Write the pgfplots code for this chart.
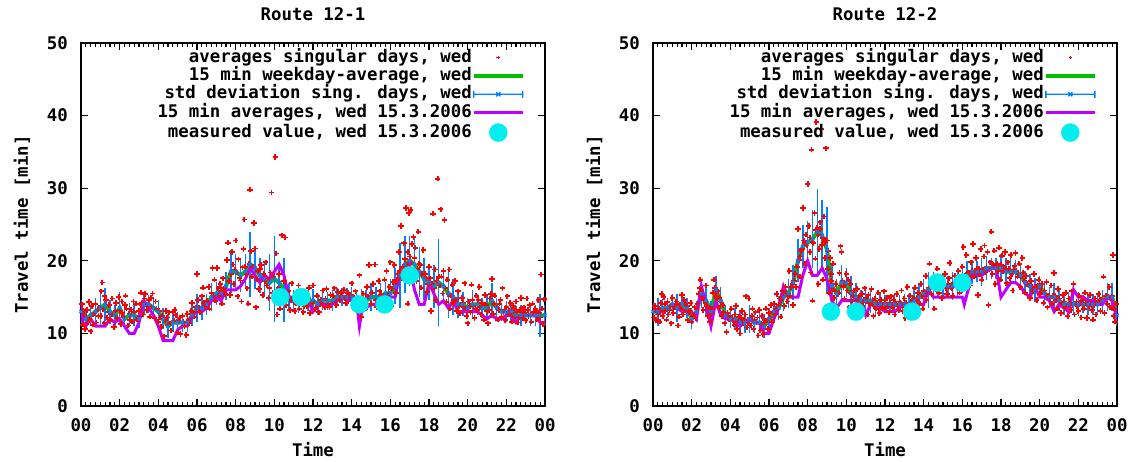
\documentclass[border=0pt]{standalone}
\usepackage{pgfplots}
\usepackage{pgfplotstable}
\pgfplotsset{compat=1.18}
\usepackage{fontspec}
\setmainfont{DejaVu Sans Mono}
\definecolor{gpred}{RGB}{255,0,0}
\definecolor{gpgreen}{RGB}{0,192,0}
\definecolor{gpblue}{RGB}{0,128,255}
\definecolor{gpmag}{RGB}{192,0,255}
\definecolor{gpcyan}{RGB}{0,238,238}

% weekday averages and std deviations, route 12-1
\pgfplotstableread{
t a s
0.00 13.0 1.2
0.25 12.0 1.0
0.50 12.5 1.0
0.75 13.0 1.5
1.00 13.5 2.0
1.25 14.0 1.8
1.50 13.0 1.2
1.75 12.5 1.0
2.00 13.5 1.8
2.25 12.0 1.0
2.50 12.5 1.2
2.75 12.5 1.0
3.00 12.0 0.8
3.25 14.0 1.0
3.50 14.0 0.8
3.75 13.5 1.0
4.00 13.0 1.2
4.25 12.0 1.0
4.50 11.0 1.2
4.75 11.5 0.8
5.00 11.5 1.0
5.25 11.5 0.8
5.50 11.5 0.8
5.75 12.5 1.0
6.00 13.5 1.5
6.25 13.5 1.2
6.50 14.0 1.0
6.75 15.0 1.5
7.00 15.5 1.2
7.25 15.5 1.0
7.50 16.5 1.5
7.75 18.5 2.5
8.00 18.5 2.0
8.25 18.0 1.8
8.50 18.5 2.0
8.75 19.5 4.0
9.00 19.0 2.5
9.25 18.0 2.0
9.50 17.5 2.0
9.75 17.0 3.5
10.00 17.5 5.5
10.25 17.0 2.0
10.50 16.0 4.0
10.75 15.0 1.5
11.00 14.5 1.0
11.25 14.5 1.2
11.50 14.5 1.0
11.75 14.5 1.0
12.00 14.5 1.2
12.25 14.0 1.0
12.50 14.5 0.8
12.75 14.5 0.8
13.00 14.5 1.0
13.25 15.0 0.8
13.50 15.0 0.8
13.75 15.0 0.8
14.00 15.0 1.0
14.25 14.5 1.0
14.50 14.5 1.2
14.75 14.5 1.0
15.00 15.0 1.5
15.25 15.0 1.0
15.50 15.0 1.5
15.75 15.5 1.2
16.00 15.5 1.5
16.25 16.5 2.0
16.50 18.0 4.0
16.75 19.5 3.5
17.00 20.0 3.0
17.25 19.5 3.5
17.50 18.5 3.0
17.75 17.5 2.5
18.00 17.0 2.0
18.25 16.5 2.5
18.50 17.0 5.5
18.75 16.5 2.0
19.00 15.5 3.0
19.25 15.0 2.0
19.50 14.0 1.5
19.75 14.0 1.2
20.00 13.5 1.0
20.25 14.0 1.5
20.50 14.0 1.0
20.75 13.5 1.0
21.00 13.5 1.2
21.25 14.5 2.0
21.50 13.5 1.0
21.75 13.0 0.8
22.00 13.0 1.0
22.25 13.0 0.8
22.50 12.5 0.8
22.75 12.5 1.0
23.00 12.5 0.8
23.25 12.5 1.0
23.50 12.5 1.0
23.75 12.5 2.5
24.00 12.5 1.0
}\avgA

% 15 min averages 15.3.2006, route 12-1
\pgfplotstableread{
t v
0.00 14
0.10 11.5
0.25 11
0.50 12
0.75 11
1.00 11
1.25 11
1.50 12
1.75 11.5
2.00 12
2.25 11
2.50 10
2.75 10
3.00 11.5
3.25 14.5
3.50 13.5
3.75 12.5
4.00 11
4.25 9
4.50 9
4.75 9
5.00 10.5
5.25 11
5.50 11
5.75 12.5
6.00 13
6.25 13
6.50 13.5
6.75 14.5
7.00 15
7.25 14.5
7.50 16
7.75 16
8.00 16
8.25 16.5
8.50 17.5
8.75 19
9.00 18
9.25 17
9.50 18
9.75 17.5
10.00 18.5
10.25 19.5
10.50 18
10.75 15
11.00 15
11.25 14.5
11.50 14.5
11.75 14.5
12.00 13
12.25 14
12.50 14
12.75 14
13.00 14
13.25 14.5
13.50 15
13.75 14.5
14.00 14.5
14.25 14.5
14.40 11
14.55 13.5
14.75 13.5
15.00 14
15.25 14
15.50 13.5
15.75 13.5
16.00 15
16.25 15
16.50 18.5
16.75 19.5
17.00 19.5
17.25 16
17.50 14
17.75 14
18.00 17
18.25 15.5
18.50 14
18.75 14.5
19.00 13.5
19.25 14.5
19.50 13
19.75 13
20.00 13
20.25 13
20.50 13
20.75 12.5
21.00 12
21.25 12.5
21.50 12
21.75 12
22.00 12.5
22.25 12.5
22.50 11.5
22.75 12.5
23.00 12.5
23.25 12.5
23.50 12.5
23.75 11.5
24.00 11.5
}\dayA

% weekday averages and std deviations, route 12-2
\pgfplotstableread{
t a s
0.00 13.0 0.8
0.25 13.0 1.5
0.50 13.5 0.8
0.75 13.5 1.0
1.00 14.0 1.0
1.25 13.5 1.5
1.50 14.0 1.0
1.75 13.5 1.0
2.00 12.0 1.0
2.25 13.0 1.0
2.50 15.5 1.5
2.75 14.5 1.5
3.00 13.0 1.0
3.25 16.0 1.5
3.50 14.5 1.5
3.75 12.5 1.0
4.00 12.0 0.8
4.25 12.0 1.0
4.50 11.5 1.2
4.75 11.5 1.0
5.00 12.0 1.5
5.25 11.5 1.0
5.50 11.5 1.0
5.75 11.0 1.2
6.00 12.0 1.0
6.25 13.0 1.0
6.50 13.5 1.2
6.75 15.0 1.5
7.00 15.5 1.5
7.25 17.0 2.0
7.50 20.0 2.5
7.75 22.0 2.5
8.00 22.5 2.5
8.25 23.0 3.5
8.50 24.0 5.5
8.75 23.5 4.5
9.00 21.5 5.5
9.25 16.5 2.5
9.50 15.5 1.5
9.75 17.0 2.0
10.00 17.0 1.5
10.25 15.5 2.0
10.50 15.0 1.5
10.75 14.5 1.0
11.00 14.5 1.0
11.25 14.5 1.2
11.50 14.0 1.0
11.75 14.0 1.0
12.00 14.0 0.8
12.25 14.0 0.8
12.50 14.0 1.0
12.75 14.0 0.8
13.00 14.0 1.0
13.25 14.0 1.0
13.50 14.5 1.2
13.75 15.0 1.5
14.00 15.5 1.5
14.25 16.0 2.0
14.50 16.5 1.5
14.75 16.5 1.0
15.00 16.5 1.2
15.25 16.5 1.0
15.50 16.5 1.5
15.75 17.0 1.5
16.00 17.5 1.5
16.25 18.0 1.5
16.50 18.5 1.2
16.75 18.5 1.0
17.00 18.5 1.5
17.25 19.0 1.2
17.50 19.0 1.0
17.75 19.0 1.0
18.00 19.0 1.5
18.25 18.5 1.5
18.50 18.5 1.5
18.75 18.5 1.2
19.00 18.0 1.2
19.25 17.0 1.2
19.50 16.5 1.2
19.75 16.0 1.2
20.00 16.5 1.0
20.25 15.5 1.2
20.50 15.0 1.0
20.75 15.0 1.5
21.00 14.5 1.0
21.25 14.0 1.0
21.50 14.0 1.2
21.75 14.0 1.0
22.00 14.0 1.2
22.25 14.0 0.8
22.50 14.0 1.0
22.75 14.0 1.0
23.00 14.0 1.0
23.25 14.5 1.0
23.50 15.0 1.5
23.75 15.0 1.5
24.00 12.5 1.0
}\avgB

% 15 min averages 15.3.2006, route 12-2
\pgfplotstableread{
t v
0.00 13
0.25 13
0.50 13
0.75 13.5
1.00 14
1.25 13.5
1.50 13
1.75 13
2.00 13
2.25 12
2.50 16.5
2.75 14
3.00 11
3.25 14.5
3.50 12.5
3.75 12
4.00 12
4.25 11.5
4.50 11
4.75 11.5
5.00 12
5.25 11.5
5.50 11.5
5.75 10
6.00 10
6.25 12
6.50 13.5
6.75 16.5
7.00 15
7.25 15
7.50 15
7.75 18
8.00 20
8.25 18
8.50 18
8.75 19
9.00 17.5
9.25 14.5
9.50 13.5
9.75 14.5
10.00 14.5
10.25 14.5
10.50 14.5
10.75 14.5
11.00 12.5
11.25 14
11.50 14
11.75 13.5
12.00 13
12.25 13
12.50 13
12.75 13.5
13.00 14
13.25 14
13.50 14
13.75 14
14.00 14
14.25 16
14.50 15
14.75 15
15.00 15
15.25 15
15.50 15
15.75 15
16.00 15
16.10 14
16.50 18
16.75 18
17.00 18
17.25 18.5
17.50 19
17.75 19
18.00 15
18.25 16
18.50 17
18.75 17
19.00 16.5
19.25 15.5
19.50 15
19.75 16.5
20.00 15
20.25 15
20.50 14.5
20.75 13
21.00 14
21.25 13.5
21.50 13
21.75 16
22.00 15
22.25 15
22.50 14.5
22.75 14.5
23.00 14
23.25 14
23.50 15
23.75 14.5
24.00 12
}\dayB

\pgfplotsset{
 gp/.style={
  scale only axis, width=464pt, height=363pt,
  xmin=0, xmax=24, ymin=0, ymax=50,
  xtick={0,2,...,24},
  xticklabels={00,02,04,06,08,10,12,14,16,18,20,22,00},
  minor x tick num=7,
  ytick={0,10,...,50},
  tick align=inside,
  major tick length=7pt, minor tick length=4pt,
  every tick/.style={black, line width=1.2pt},
  axis line style={line width=1.6pt},
  /pgf/number format/assume math mode=true,
  xticklabel style={anchor=center, inner sep=0pt, yshift=-19pt},
  yticklabel style={anchor=east, inner sep=0pt, xshift=-13pt},
  title style={at={(axis description cs:0.5,1.062)}, anchor=center, inner sep=0pt},
  xlabel style={at={(axis description cs:0.5,-0.121)}, anchor=center, inner sep=0pt},
  ylabel style={at={(axis description cs:-0.127,0.5)}, anchor=center, inner sep=0pt},
  xlabel={Time}, ylabel={Travel time [min]},
  legend plot pos=right,
  legend cell align=right,
  legend style={draw=none, fill=none, at={(axis description cs:1,1)}, anchor=north east,
    xshift=-20pt, yshift=-7pt, inner sep=0pt, row sep=3.3pt,
    nodes={inner sep=0pt, text height=12pt, text depth=3pt},
    /tikz/every even column/.append style={column sep=13pt}},
 },
 redpts/.style={only marks, mark=+, mark size=2.7pt, color=gpred, line width=1.8pt,
   mark options={draw=gpred, solid},
   legend image code/.code={\path[draw=none, fill=none] (0pt,0pt) -- (49pt,0pt);
     \draw[gpred, line width=1.3pt] (22.7pt,0pt) -- (26.3pt,0pt) (24.5pt,-1.8pt) -- (24.5pt,1.8pt);}},
 greenln/.style={color=gpgreen, line width=4pt, no marks,
   legend image code/.code={\draw[gpgreen, line width=4pt] (0pt,0pt) -- (49pt,0pt);}},
 bluebars/.style={only marks, mark=x, mark size=2.2pt, color=gpblue, line width=1.4pt,
   mark options={draw=gpblue, solid},
   legend image code/.code={
   \draw[gpblue, line width=1.4pt] (0pt,0pt) -- (49pt,0pt) (0pt,-3.5pt) -- (0pt,3.5pt) (49pt,-3.5pt) -- (49pt,3.5pt)
     (22.5pt,-2pt) -- (26.5pt,2pt) (22.5pt,2pt) -- (26.5pt,-2pt);},
   error bars/.cd, y dir=both, y explicit, error mark=-,
   error bar style={line width=1.4pt, draw=gpblue},
   error mark options={draw=gpblue, mark size=3.2pt, line width=1.4pt}},
 magln/.style={color=gpmag, line width=3pt, no marks,
   legend image code/.code={\draw[gpmag, line width=3pt] (0pt,0pt) -- (49pt,0pt);}},
 cyanpts/.style={only marks, mark=*, mark size=9pt, color=gpcyan, mark options={draw=gpcyan, fill=gpcyan},
   legend image code/.code={\path[draw=none, fill=none] (0pt,0pt) -- (49pt,0pt);
     \fill[gpcyan] (24.5pt,0pt) circle (9pt);}},
}

\begin{document}
\fontsize{17.4}{20}\selectfont\bfseries
\begin{tikzpicture}
\path[use as bounding box] (0pt,0pt) rectangle (1131pt,461pt);
% ---------------- Route 12-1 ----------------
\begin{axis}[gp, at={(81pt,55pt)}, anchor=south west, title={Route 12-1}]
\addplot[redpts] coordinates {
(0.05,14)(0.1,11.2)(0.15,12.6)(0.2,10.6)(0.3,13.2)(0.35,11.5)(0.45,12)(0.5,10.3)(0.55,13.8)(0.6,11.2)
(0.7,12.8)(0.75,14.1)(0.8,11.5)(0.9,12.4)(0.95,13.6)(1.05,15.8)(1.1,17)(1.15,13.3)(1.2,11.4)(1.3,14.6)
(1.35,12.2)(1.45,13.9)(1.5,11.8)(1.6,12.6)(1.7,10.9)(1.8,14.2)(1.85,12.1)(1.95,15)(2.0,13.2)(2.05,11.3)
(2.1,14.4)(2.2,12.3)(2.3,15.2)(2.35,13.4)(2.45,11.1)(2.5,12.7)(2.6,13.3)(2.65,11.6)(2.75,12.9)(2.85,14.1)
(2.9,11.9)(3.0,13.1)(3.1,15.6)(3.15,14.2)(3.2,12.6)(3.3,15.4)(3.4,13.2)(3.5,14.6)(3.55,12.3)(3.65,13.7)
(3.7,15.5)(3.8,12.1)(3.9,13.4)(4.0,11.6)(4.05,13.1)(4.15,10.9)(4.2,12.4)(4.3,9.6)(4.4,13.1)(4.5,11.2)
(4.55,12.9)(4.65,10.4)(4.75,13)(4.8,11.7)(4.9,12.5)(5.0,10.1)(5.05,11.8)(5.15,9.9)(5.25,12.4)(5.35,11)
(5.45,9.8)(5.5,12.7)(5.6,11.4)(5.7,13.1)(5.75,14.2)(5.85,12.3)(5.95,13.6)(6.0,18.2)(6.05,14.6)(6.15,12.9)
(6.25,15.1)(6.3,16.3)(6.4,13.8)(6.5,14.5)(6.6,16.4)(6.65,13.4)(6.75,15.6)(6.8,19)(6.9,17.4)(6.95,14.5)
(7.05,19)(7.15,15.2)(7.2,16.8)(7.3,14.1)(7.35,17.6)(7.45,15.4)(7.55,20.1)(7.6,22.5)(7.65,17.2)(7.7,15.3)
(7.8,21.2)(7.85,19.5)(7.9,16.8)(8.0,22.8)(8.05,18.4)(8.1,15.1)(8.15,20.2)(8.25,17.3)(8.3,14.4)(8.4,21.6)
(8.45,25.7)(8.5,19.2)(8.6,16.2)(8.65,14.1)(8.75,29.8)(8.8,21.3)(8.85,17.8)(8.95,25.2)(9.0,21.7)(9.05,13.6)
(9.15,18.6)(9.2,16.1)(9.3,19.4)(9.4,15.3)(9.45,18.2)(9.55,19.8)(9.6,16.6)(9.7,14.9)(9.8,18.4)(9.85,29.4)
(9.9,15.6)(10.05,34.3)(10.1,21)(10.15,12.6)(10.2,16.2)(10.3,13.4)(10.4,23.5)(10.5,17.2)(10.55,23.2)(10.6,13.9)
(10.7,15.8)(10.8,13.2)(10.9,16.9)(11.0,14.3)(11.05,13.1)(11.15,15.6)(11.25,16.6)(11.3,13.4)(11.4,14.8)(11.5,12.9)
(11.6,15.5)(11.7,13.8)(11.8,16.3)(11.85,12.8)(11.95,14.2)(12.0,16.6)(12.1,13.3)(12.2,15.2)(12.3,12.9)(12.4,14.6)
(12.5,15.9)(12.6,13.6)(12.7,16.1)(12.8,14.1)(12.9,15.3)(13.0,14.4)(13.1,16.2)(13.2,13.9)(13.3,15.7)(13.4,14.6)
(13.5,15.1)(13.6,16)(13.7,14.2)(13.8,15.6)(13.9,14.8)(14.0,16.9)(14.1,14.3)(14.2,15.8)(14.3,13.1)(14.4,18)
(14.5,12.3)(14.6,15.4)(14.7,13.4)(14.8,16.4)(14.9,19.4)(15.0,14.1)(15.1,16.8)(15.2,19.5)(15.3,13.6)(15.4,17.2)
(15.5,15.3)(15.6,14.1)(15.7,17.4)(15.8,18.6)(15.85,15.2)(15.95,16.4)(16.0,19.8)(16.05,13.8)(16.15,17.1)(16.2,19.4)
(16.3,15.6)(16.4,18.2)(16.45,21.2)(16.55,24.8)(16.6,17.6)(16.7,22.4)(16.8,27.3)(16.85,19.4)(16.9,14.1)(16.95,26.6)
(17.0,20.6)(17.05,27)(17.1,22.3)(17.15,18.4)(17.2,23.3)(17.3,21.8)(17.35,17.2)(17.45,24)(17.5,19.6)(17.6,16.3)
(17.7,21.5)(17.8,18.2)(17.9,15.7)(18.0,19.2)(18.1,13.1)(18.15,16.8)(18.2,26.5)(18.3,18.8)(18.35,14.6)(18.45,31.3)
(18.5,17.8)(18.6,27.1)(18.7,15.5)(18.75,18.6)(18.8,25.6)(18.9,14.3)(18.95,17.4)(19.05,18.8)(19.1,13.4)(19.2,16.7)
(19.3,14.6)(19.35,17.2)(19.45,13.1)(19.5,15.8)(19.6,12.8)(19.7,14.9)(19.8,13.6)(19.85,16.9)(19.95,12.4)(20.0,11.4)
(20.05,14.4)(20.15,12.9)(20.2,16.7)(20.3,13.8)(20.35,12.1)(20.45,15.2)(20.5,13.2)(20.6,16.4)(20.7,12.6)(20.75,14.2)
(20.85,11.9)(20.9,15.3)(21.0,13.1)(21.05,11.4)(21.15,14.8)(21.25,17.5)(21.3,12.7)(21.4,15.2)(21.5,13.6)(21.55,11.9)
(21.65,14.1)(21.75,12.3)(21.8,16.2)(21.9,13.3)(21.95,11.8)(22.05,15.1)(22.1,12.6)(22.2,14.2)(22.3,11.6)(22.35,13.8)
(22.45,12.3)(22.5,14.4)(22.6,11.5)(22.7,13.2)(22.75,14.9)(22.85,12.1)(22.9,13.6)(23.0,11.8)(23.05,14.8)(23.15,12.4)
(23.2,13.9)(23.3,11.6)(23.35,14.1)(23.45,12.7)(23.5,13.4)(23.6,11.9)(23.65,14.6)(23.75,12.2)(23.8,18.1)(23.85,13.4)
(23.9,11.3)(23.95,14.7)
(0.12,13.1)(0.28,12.1)(0.42,14.3)(0.62,12.6)(0.88,13.3)(1.02,12.4)(1.22,15.1)(1.42,12.9)(1.62,14.8)(1.78,13.1)
(2.12,12.8)(2.28,13.9)(2.52,11.9)(2.72,14.4)(2.95,12.2)(3.12,13.9)(3.28,14.8)(3.45,13.8)(3.62,14.9)(3.85,14.4)
(4.1,12.2)(4.35,11.8)(4.45,12.2)(4.62,11.4)(4.85,13.2)(5.1,12.2)(5.3,11.6)(5.55,11.8)(5.8,12.9)(6.1,13.6)
(6.35,14.2)(6.55,13.9)(6.85,15.2)(7.1,16.2)(7.25,15.8)(7.4,16.2)(7.75,18.2)(7.95,18.8)(8.2,17.6)(8.35,19.1)
(8.55,18.2)(8.7,19.6)(8.9,19.2)(9.1,17.4)(9.25,18.9)(9.5,17.2)(9.65,17.6)(9.75,16.2)(9.95,17.8)(10.25,18.2)
(10.45,15.8)(10.65,15.2)(10.85,14.6)(11.1,14.2)(11.35,15.2)(11.55,13.8)(11.75,14.9)(12.05,14.4)(12.25,13.8)(12.45,14.2)
(12.65,14.8)(12.85,13.6)(13.05,15.2)(13.25,14.8)(13.45,15.6)(13.65,14.9)(13.85,15.3)(14.05,15.1)(14.25,14.2)(14.45,14.8)
(14.65,14.2)(14.85,15.1)(15.05,15.6)(15.25,14.6)(15.45,15.8)(15.65,15.2)(15.9,15.6)(16.1,16.2)(16.25,16.8)(16.35,17.4)
(16.5,18.6)(16.65,19.2)(16.75,20.2)(16.9,21.2)(17.05,19.8)(17.25,20.4)(17.4,18.9)(17.55,19.4)(17.65,18.2)(17.85,17.6)
(17.95,16.8)(18.05,17.6)(18.25,16.2)(18.4,17.2)(18.55,16.6)(18.65,17.8)(18.85,16.2)(19.0,15.4)(19.15,15.2)(19.25,14.2)
(19.4,14.6)(19.55,13.8)(19.75,14.2)(19.9,13.4)(20.1,13.8)(20.25,14.6)(20.4,13.4)(20.55,14.6)(20.65,13.6)(20.95,13.9)
(21.1,13.2)(21.2,15.4)(21.35,14.1)(21.6,13.2)(21.7,14.6)(21.85,12.9)(22.0,13.6)(22.15,13.1)(22.25,12.8)(22.4,13.4)
(22.55,12.9)(22.65,12.2)(22.8,13.1)(22.95,12.8)(23.1,13.2)(23.25,12.6)(23.4,12.9)(23.55,13.1)(23.7,12.8)
};
\addlegendentry{averages singular days, wed}
\addplot[greenln] table[x=t, y=a] {\avgA};
\addlegendentry{15 min weekday-average, wed}
\addplot[bluebars] table[x=t, y=a, y error=s] {\avgA};
\addlegendentry{std deviation sing. days, wed}
\addplot[magln] table[x=t, y=v] {\dayA};
\addlegendentry{15 min averages, wed 15.3.2006}
\addplot[cyanpts] coordinates {(10.3,15)(11.4,15)(14.4,14)(15.7,14)(17.0,18)};
\addlegendentry{measured value, wed 15.3.2006}
\end{axis}
% ---------------- Route 12-2 ----------------
\begin{axis}[gp, at={(653pt,55pt)}, anchor=south west, title={Route 12-2}]
\addplot[redpts] coordinates {
(0.05,12.2)(0.1,13.8)(0.15,11.8)(0.2,12.9)(0.3,13.4)(0.35,11.6)(0.4,14.2)(0.45,15.4)(0.5,12.4)(0.55,15)
(0.6,13.1)(0.7,11.9)(0.75,14.3)(0.8,12.6)(0.9,13.8)(0.95,11.4)(1.0,14.9)(1.05,12.8)(1.15,13.6)(1.2,14.4)
(1.3,11.1)(1.35,12.3)(1.4,13.9)(1.5,15.3)(1.55,12.6)(1.65,14.1)(1.7,13.2)(1.8,11.8)(1.85,12.9)(1.95,14.2)
(2.0,11.6)(2.05,12.4)(2.15,13.6)(2.2,12.1)(2.3,14.1)(2.35,15.4)(2.4,16.2)(2.45,17.4)(2.5,15.8)(2.6,13.2)
(2.65,14.6)(2.75,16.6)(2.8,13.8)(2.85,12.4)(2.95,11.6)(3.05,13.4)(3.1,15.6)(3.15,17.4)(3.2,16.3)(3.3,14.9)
(3.35,15.8)(3.4,13.6)(3.5,14.4)(3.55,12.4)(3.6,13.9)(3.7,11.4)(3.8,10.2)(3.85,12.8)(3.95,11.9)(4.05,13.4)
(4.1,12.1)(4.2,11.2)(4.3,13.8)(4.35,10.6)(4.45,12.3)(4.5,10.0)(4.6,13.1)(4.65,11.4)(4.75,12.6)(4.8,15.1)
(4.85,10.8)(4.95,14.8)(5.0,12.2)(5.05,11.1)(5.15,13.4)(5.2,10.6)(5.3,12.9)(5.35,11.5)(5.45,9.7)(5.5,13.2)
(5.55,10.4)(5.65,12.4)(5.7,9.9)(5.8,11.8)(5.85,13.4)(5.95,10.6)(6.0,12.8)(6.1,13.9)(6.15,11.6)(6.25,14.1)
(6.3,12.6)(6.4,15.4)(6.45,13.4)(6.55,14.8)(6.6,12.3)(6.7,15.8)(6.8,13.8)(6.85,16.4)(6.95,14.4)(7.05,18.6)
(7.1,15.2)(7.2,16.8)(7.25,13.9)(7.35,18.2)(7.4,16.4)(7.5,24.4)(7.55,20.1)(7.6,17.8)(7.65,21.3)(7.75,27.3)
(7.8,22.8)(7.85,19.6)(7.9,23.6)(8.0,30.6)(8.05,24.8)(8.1,21.2)(8.15,18.4)(8.2,35.3)(8.25,14.5)(8.3,22.4)
(8.35,26.6)(8.4,20.3)(8.45,39.1)(8.5,24.6)(8.55,16.8)(8.6,21.6)(8.65,25.3)(8.7,38.1)(8.75,22.2)(8.8,17.4)
(8.85,26.1)(8.9,20.4)(8.95,35.5)(9.0,22.8)(9.05,18.9)(9.1,15.6)(9.15,20.4)(9.2,17.2)(9.3,19.6)(9.35,14.9)
(9.45,16.8)(9.5,13.7)(9.6,15.6)(9.65,18.3)(9.7,22)(9.75,21.2)(9.85,16.4)(9.9,14.8)(10.0,18.2)(10.05,15.9)
(10.15,13.6)(10.2,16.8)(10.3,14.4)(10.4,15.9)(10.45,13.2)(10.55,16.1)(10.6,14.6)(10.7,12.9)(10.8,15.4)(10.85,13.8)
(10.95,16.2)(11.0,14.4)(11.1,12.6)(11.15,15.3)(11.25,13.9)(11.3,16.1)(11.4,12.4)(11.5,14.8)(11.55,13.4)(11.65,15.6)
(11.7,12.8)(11.8,14.6)(11.9,13.4)(11.95,15.8)(12.05,13.6)(12.1,14.9)(12.2,12.9)(12.3,15.1)(12.35,13.8)(12.45,14.6)
(12.5,12.6)(12.6,15.4)(12.7,13.2)(12.75,14.4)(12.85,15.9)(12.9,13.1)(13.0,14.8)(13.05,12.1)(13.15,16.4)(13.2,13.8)
(13.3,15.2)(13.4,12.6)(13.45,14.6)(13.55,16.3)(13.6,13.6)(13.7,15.6)(13.8,14.1)(13.85,16.8)(13.95,13.4)(14.0,15.8)
(14.1,17.9)(14.15,14.6)(14.25,16.3)(14.3,19.6)(14.4,15.4)(14.5,17.4)(14.55,13.4)(14.65,16.1)(14.7,18.9)(14.8,15.6)
(14.9,17.2)(14.95,14.9)(15.05,16.8)(15.1,18.2)(15.2,15.4)(15.3,17.6)(15.35,19.7)(15.45,16.2)(15.5,15.2)(15.6,17.9)
(15.7,16.4)(15.8,18.6)(15.85,15.6)(15.95,17.3)(16.0,19.2)(16.05,21.9)(16.15,17.6)(16.2,20.8)(16.3,18.4)(16.4,16.6)
(16.45,19.8)(16.55,22.3)(16.6,17.8)(16.7,20.4)(16.8,15.3)(16.85,18.9)(16.95,21.6)(17.0,17.4)(17.1,20.6)(17.15,22.1)
(17.2,18.4)(17.3,21.2)(17.35,13.9)(17.45,19.8)(17.5,24)(17.55,18.2)(17.65,21.4)(17.7,16.8)(17.8,19.6)(17.9,21.8)
(17.95,17.4)(18.05,20.7)(18.1,18.6)(18.2,21.2)(18.3,16.9)(18.35,19.8)(18.45,17.6)(18.5,20.8)(18.6,15.9)(18.7,19.3)
(18.75,21.1)(18.85,17.8)(18.95,19.6)(19.0,16.4)(19.1,20.4)(19.15,18.4)(19.25,15.6)(19.3,17.9)(19.4,19.1)(19.5,14.9)
(19.55,17.2)(19.65,15.8)(19.7,18.2)(19.8,16.4)(19.85,14.6)(19.95,17.4)(20.0,15.4)(20.1,16.8)(20.2,14.2)(20.25,15.9)
(20.35,17.1)(20.4,13.6)(20.5,15.2)(20.6,16.6)(20.65,14.1)(20.75,18.3)(20.8,15.2)(20.9,13.4)(20.95,16.1)(21.05,14.4)
(21.1,12.8)(21.2,15.3)(21.3,13.6)(21.35,15.6)(21.45,12.4)(21.5,14.8)(21.6,13.2)(21.65,15.8)(21.75,16.8)(21.8,12.6)
(21.9,14.4)(22.0,13.1)(22.05,15.2)(22.15,12.2)(22.2,14.6)(22.3,13.4)(22.35,15.6)(22.45,12.1)(22.5,14.1)(22.6,15.3)
(22.7,13.2)(22.75,11.9)(22.85,14.8)(22.9,12.6)(23.0,14.2)(23.05,15.4)(23.15,13.1)(23.2,14.6)(23.3,17.8)(23.35,12.8)
(23.45,15.2)(23.5,14.1)(23.6,16.4)(23.65,13.6)(23.75,15.1)(23.8,20.8)(23.85,12.4)(23.9,11.6)(23.95,14.1)
(0.12,13.4)(0.25,12.6)(0.38,13.1)(0.62,14.1)(0.85,13.2)(1.1,13.6)(1.25,14.1)(1.45,13.4)(1.6,14.6)(1.75,13.8)
(1.9,13.1)(2.1,12.6)(2.25,13.4)(2.55,14.9)(2.7,14.2)(2.9,13.6)(3.0,12.8)(3.25,15.2)(3.45,14.9)(3.65,12.9)
(3.75,12.6)(3.9,12.4)(4.15,11.8)(4.25,12.6)(4.4,11.6)(4.55,12.1)(4.7,11.9)(4.9,11.4)(5.1,12.4)(5.25,11.9)
(5.4,12.2)(5.6,11.4)(5.75,11.2)(5.9,11.8)(6.05,12.2)(6.2,12.9)(6.35,13.4)(6.5,13.9)(6.65,14.6)(6.75,15.2)
(6.9,15.6)(7.0,15.1)(7.15,16.4)(7.3,17.2)(7.45,19.2)(7.6,20.6)(7.7,21.6)(7.85,22.4)(7.95,22.1)(8.1,23.2)
(8.25,22.6)(8.4,24.2)(8.55,23.6)(8.65,24.4)(8.8,23.1)(8.9,22.6)(9.05,21.4)(9.2,18.2)(9.25,16.2)(9.4,15.8)
(9.55,15.4)(9.7,16.6)(9.8,17.2)(9.95,16.8)(10.1,17.4)(10.25,15.6)(10.35,15.2)(10.5,14.8)(10.65,15.1)(10.75,14.4)
(10.9,14.6)(11.05,14.9)(11.2,14.2)(11.35,14.6)(11.45,13.8)(11.6,14.2)(11.75,14.1)(11.85,13.6)(12.0,14.2)(12.15,13.8)
(12.25,14.2)(12.4,13.6)(12.55,14.1)(12.65,13.8)(12.8,14.2)(12.95,13.9)(13.1,14.2)(13.25,13.6)(13.35,14.1)(13.5,14.8)
(13.65,14.6)(13.75,15.2)(13.9,15.1)(14.05,15.4)(14.2,15.8)(14.35,16.2)(14.45,16.6)(14.6,16.8)(14.75,16.2)(14.85,16.6)
(15.0,16.9)(15.15,16.2)(15.25,16.8)(15.4,16.4)(15.55,16.9)(15.65,16.8)(15.75,17.2)(15.9,17.1)(16.1,17.6)(16.25,18.2)
(16.35,17.9)(16.5,18.6)(16.65,18.4)(16.75,18.9)(16.9,18.2)(17.05,18.8)(17.25,19.2)(17.4,18.8)(17.6,19.4)(17.75,19.1)
(17.85,18.6)(18.0,19.4)(18.15,19.1)(18.25,18.6)(18.4,18.9)(18.55,18.2)(18.65,18.8)(18.8,18.6)(18.9,18.2)(19.05,17.8)
(19.2,17.2)(19.35,16.8)(19.45,16.6)(19.6,16.4)(19.75,16.1)(19.9,16.6)(20.05,16.2)(20.15,15.6)(20.3,15.4)(20.45,15.1)
(20.55,14.8)(20.7,15.2)(20.85,14.6)(21.0,14.8)(21.15,14.1)(21.25,14.4)(21.4,13.8)(21.55,14.2)(21.7,13.9)(21.85,14.1)
(21.95,13.8)(22.1,14.2)(22.25,13.9)(22.4,14.2)(22.55,13.8)(22.65,14.1)(22.8,13.9)(22.95,14.2)(23.1,14.6)(23.25,14.8)
(23.4,15.2)(23.55,15.1)(23.7,14.8)(23.85,13.4)
};
\addlegendentry{averages singular days, wed}
\addplot[greenln] table[x=t, y=a] {\avgB};
\addlegendentry{15 min weekday-average, wed}
\addplot[bluebars] table[x=t, y=a, y error=s] {\avgB};
\addlegendentry{std deviation sing. days, wed}
\addplot[magln] table[x=t, y=v] {\dayB};
\addlegendentry{15 min averages, wed 15.3.2006}
\addplot[cyanpts] coordinates {(9.2,13)(10.5,13)(13.4,13)(14.7,17)(16.0,17)};
\addlegendentry{measured value, wed 15.3.2006}
\end{axis}
\end{tikzpicture}
\end{document}
